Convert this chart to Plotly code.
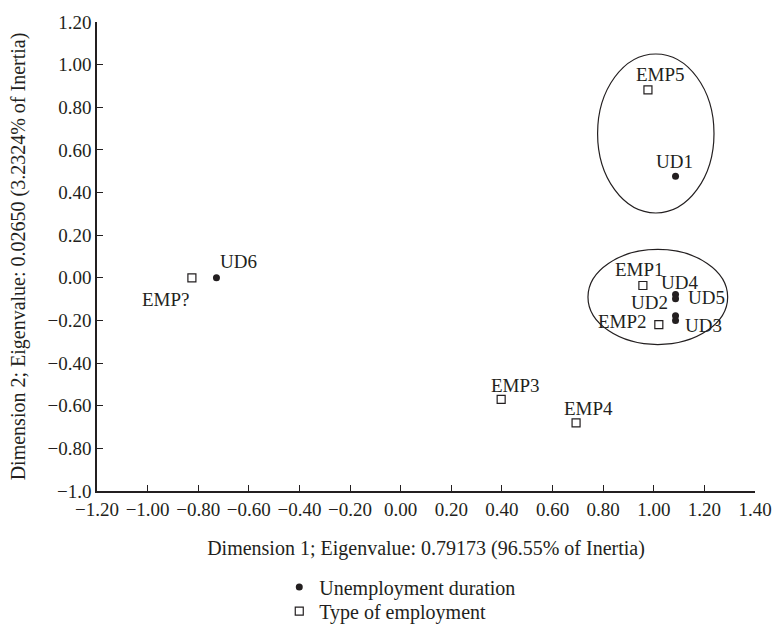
import plotly.graph_objects as go

# Correspondence analysis coordinates
ud_labels = ["UD1", "UD2", "UD3", "UD4", "UD5", "UD6"]
ud_dim1 = [1.086, 1.086, 1.086, 1.086, 1.086, -0.728]
ud_dim2 = [0.477, -0.178, -0.200, -0.078, -0.098, 0.000]

emp_labels = ["EMP1", "EMP2", "EMP3", "EMP4", "EMP5", "EMP?"]
emp_dim1 = [0.957, 1.020, 0.397, 0.693, 0.977, -0.825]
emp_dim2 = [-0.036, -0.220, -0.570, -0.680, 0.882, 0.000]

x_ticks = [-1.2, -1.0, -0.8, -0.6, -0.4, -0.2, 0.0, 0.2, 0.4, 0.6, 0.8, 1.0, 1.2, 1.4]
x_ticktext = ["\u22121.20", "\u22121.00", "\u22120.80", "\u22120.60", "\u22120.40", "\u22120.20",
              "0.00", "0.20", "0.40", "0.60", "0.80", "1.00", "1.20", "1.40"]
y_ticks = [1.2, 1.0, 0.8, 0.6, 0.4, 0.2, 0.0, -0.2, -0.4, -0.6, -0.8, -1.0]
y_ticktext = ["1.20", "1.00", "0.80", "0.60", "0.40", "0.20", "0.00",
              "\u22120.20", "\u22120.40", "\u22120.60", "\u22120.80", "\u22121.0"]

# Cluster outlines (data coordinates: x0, x1, y0, y1)
clusters = [
    (0.778, 1.238, 0.304, 1.050),
    (0.740, 1.292, -0.313, 0.133),
]

INK = "#231f20"
FONT = "Liberation Serif"

# Label offsets in pixels relative to each point
label_shift = {
    "UD1": (-1, 15), "UD2": (-26, 13), "UD3": (28, -5), "UD4": (4, 12), "UD5": (31, 1),
    "UD6": (22, 16),
    "EMP1": (-3, 16), "EMP2": (-36, 3), "EMP3": (14, 14), "EMP4": (12, 14), "EMP5": (13, 15),
    "EMP?": (-26, -22),
}

fig = go.Figure()
fig.add_trace(go.Scatter(
    x=ud_dim1, y=ud_dim2, mode="markers", name="Unemployment duration",
    marker=dict(symbol="circle", size=7, color=INK), legend="legend",
))
fig.add_trace(go.Scatter(
    x=emp_dim1, y=emp_dim2, mode="markers", name="Type of employment",
    marker=dict(symbol="square-open", size=8, color=INK, line=dict(width=1.2, color=INK)),
    legend="legend2",
))

annotations = []
for labels, xs, ys in ((ud_labels, ud_dim1, ud_dim2), (emp_labels, emp_dim1, emp_dim2)):
    for lab, xv, yv in zip(labels, xs, ys):
        dx, dy = label_shift[lab]
        annotations.append(dict(x=xv, y=yv, text=lab, showarrow=False,
                                xshift=dx, yshift=dy,
                                font=dict(family=FONT, size=19, color=INK)))

shapes = [dict(type="circle", xref="x", yref="y", x0=a, x1=b, y0=c, y1=d,
               line=dict(color=INK, width=1.2)) for a, b, c, d in clusters]

axis_common = dict(
    showline=True, linecolor=INK, linewidth=1.5, ticks="inside", ticklen=6,
    tickcolor=INK, tickwidth=1.2, showgrid=False, zeroline=False,
    tickfont=dict(family=FONT, size=19, color=INK),
)

legend_common = dict(x=0.277, xanchor="left", yanchor="middle",
                     font=dict(family=FONT, size=20, color=INK),
                     bgcolor="rgba(0,0,0,0)", itemwidth=30)

fig.update_layout(
    width=784, height=642,
    margin=dict(l=97, r=19, t=20, b=138),
    paper_bgcolor="white", plot_bgcolor="white",
    font=dict(family=FONT, size=19, color=INK),
    xaxis=dict(range=[-1.2, 1.4], tickvals=x_ticks, ticktext=x_ticktext,
               title=dict(text="Dimension 1; Eigenvalue: 0.79173 (96.55% of Inertia)",
                          standoff=22, font=dict(family=FONT, size=20, color=INK)),
               **axis_common),
    yaxis=dict(range=[-1.0, 1.2], tickvals=y_ticks, ticktext=y_ticktext,
               title=dict(text="Dimension 2; Eigenvalue: 0.02650 (3.2324% of Inertia)",
                          standoff=16, font=dict(family=FONT, size=20, color=INK)),
               **axis_common),
    legend=dict(y=-0.2045, **legend_common),
    legend2=dict(y=-0.256, **legend_common),
    showlegend=True,
    annotations=annotations,
    shapes=shapes,
)

fig.write_html("out.html")
